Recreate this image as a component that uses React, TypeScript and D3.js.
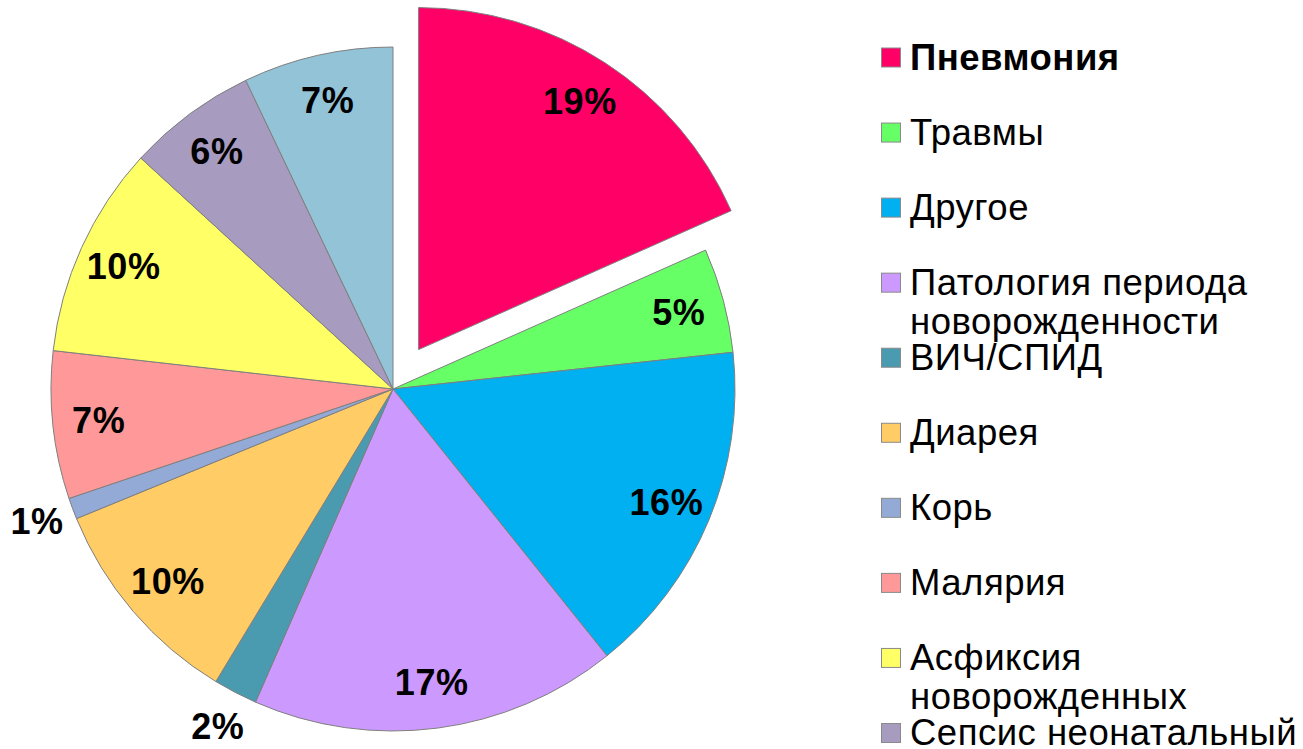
import React from "react";
import * as d3 from "d3";

const categories = [
  "Пневмония",
  "Травмы",
  "Другое",
  "Патология периода новорожденности",
  "ВИЧ/СПИД",
  "Диарея",
  "Корь",
  "Малярия",
  "Асфиксия новорожденных",
  "Сепсис неонатальный",
  "Врожденные аномалии",
];
const values = [18.33, 4.94, 15.94, 17.33, 2.08, 10.14, 1.0, 6.97, 10.0, 6.11, 7.08];
const valueLabels = ["19%", "5%", "16%", "17%", "2%", "10%", "1%", "7%", "10%", "6%", "7%"];
const legendLines = [
  ["Пневмония"],
  ["Травмы"],
  ["Другое"],
  ["Патология периода", "новорожденности"],
  ["ВИЧ/СПИД"],
  ["Диарея"],
  ["Корь"],
  ["Малярия"],
  ["Асфиксия", "новорожденных"],
  ["Сепсис неонатальный"],
  ["Врожденные аномалии"],
];
const colors = [
  "#FF0066",
  "#66FF66",
  "#00B0F0",
  "#CC99FF",
  "#4A9AB0",
  "#FFCC66",
  "#93A9D6",
  "#FF9999",
  "#FFFF66",
  "#A89BC0",
  "#93C3D7",
];
const explodedIndex = 0;

export default function App() {
  const W = 1303;
  const H = 749;
  const cx = 393;
  const cy = 389;
  const R = 342;
  const explode = 47;
  const font = "'Liberation Sans', Arial, sans-serif";

  const data = categories.map((c, i) => ({ name: c, value: values[i], i }));
  const pie = d3
    .pie<any>()
    .sort(null)
    .value((d: any) => d.value)
    .startAngle(0)
    .endAngle(2 * Math.PI);
  const arcs = pie(data);
  const arcGen = d3.arc<any>().innerRadius(0).outerRadius(R);
  const labelArcIn = d3.arc<any>().innerRadius(296).outerRadius(296);
  const labelArcOut = d3.arc<any>().innerRadius(380).outerRadius(380);

  const legendY = d3.scaleLinear().domain([0, 9]).range([57.5, 733]);
  const visibleLegend = legendLines.filter((_, i) => legendY(i) < H);

  return (
    <div style={{ position: "absolute", left: 0, top: 0 }}>
      <svg width={W} height={H} style={{ display: "block", background: "#fff" }}>
        <g transform={`translate(${cx},${cy})`}>
          {arcs.map((a: any, k: number) => {
            const mid = (a.startAngle + a.endAngle) / 2;
            const off = a.data.i === explodedIndex ? explode : 0;
            const dx = Math.sin(mid) * off;
            const dy = -Math.cos(mid) * off;
            return (
              <path
                key={k}
                d={arcGen(a) as string}
                transform={`translate(${dx},${dy})`}
                fill={colors[a.data.i]}
                stroke="#7F7F7F"
                strokeWidth={1}
              />
            );
          })}
          {arcs.map((a: any, k: number) => {
            const mid = (a.startAngle + a.endAngle) / 2;
            const off = a.data.i === explodedIndex ? explode : 0;
            const dx = Math.sin(mid) * off;
            const dy = -Math.cos(mid) * off;
            const outside = a.data.value < 3;
            const [lx, ly] = (outside ? labelArcOut : labelArcIn).centroid(a);
            return (
              <text
                key={"l" + k}
                x={lx + dx}
                y={ly + dy}
                textAnchor="middle"
                dominantBaseline="central"
                fontFamily={font}
                fontWeight="bold"
                fontSize={36}
                letterSpacing={0.6}
                fill="#000"
              >
                {valueLabels[a.data.i]}
              </text>
            );
          })}
        </g>
        <g>
          {visibleLegend.map((lines, i) => {
            const yc = legendY(i);
            return (
              <g key={"lg" + i}>
                <rect
                  x={881.5}
                  y={yc - 9.5}
                  width={19}
                  height={19}
                  fill={colors[i]}
                  stroke="#8A8A8A"
                  strokeWidth={1}
                />
                {lines.map((ln, j) => (
                  <text
                    key={j}
                    x={910}
                    y={yc + 12 + j * 39}
                    fontFamily={font}
                    fontSize={36.5}
                    letterSpacing={0.5}
                    fontWeight={i === 0 ? "bold" : "normal"}
                    fill="#000"
                  >
                    {ln}
                  </text>
                ))}
              </g>
            );
          })}
        </g>
      </svg>
    </div>
  );
}
